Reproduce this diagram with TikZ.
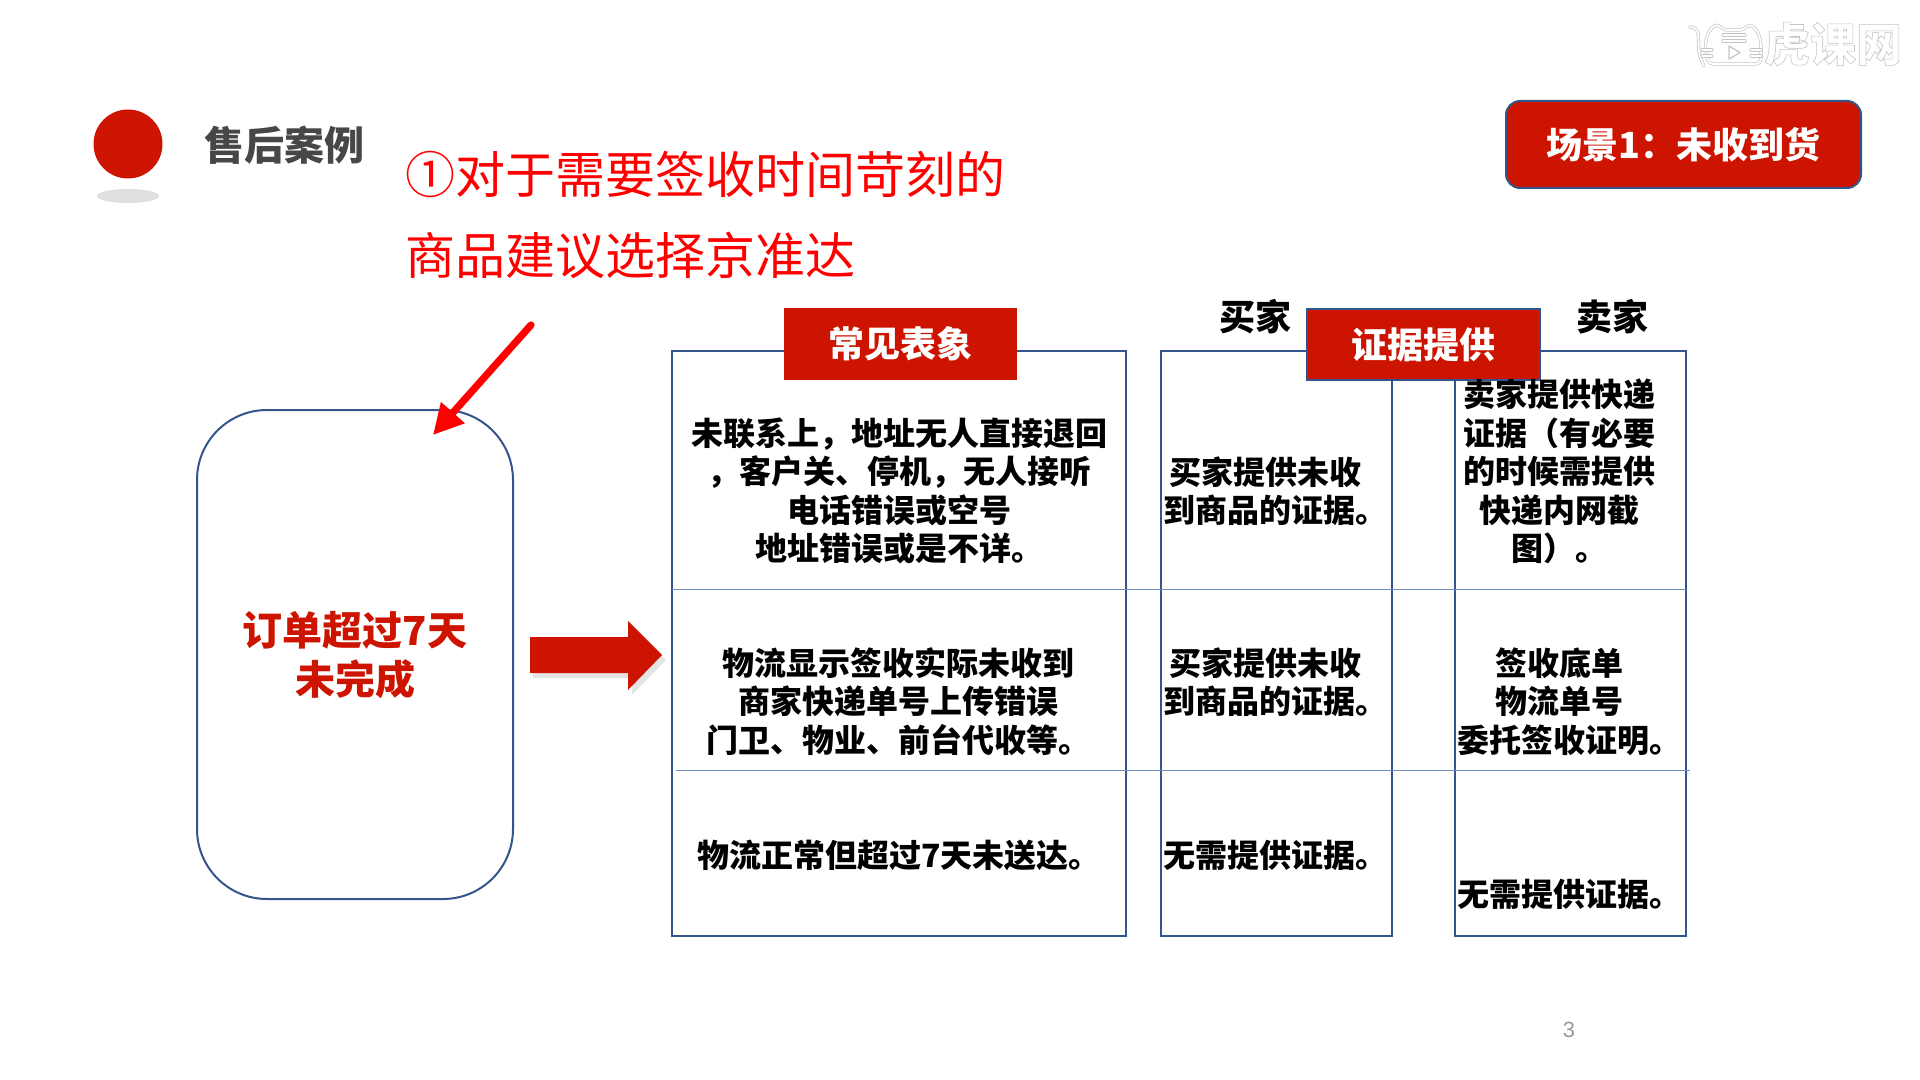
\documentclass[tikz,border=0pt]{standalone}
\usepackage{fontspec}
\setmainfont{Noto Sans CJK SC}
\newfontfamily\latinfont{Liberation Sans}
\usetikzlibrary{arrows.meta}
\definecolor{redfill}{HTML}{CC1400}
\definecolor{navy}{HTML}{34558B}
\definecolor{rowline}{HTML}{6F8DB8}
\definecolor{wmgray}{HTML}{C4C4C4}
\newcommand{\fs}[2]{\fontsize{#1}{#2}\selectfont}
\newcommand{\outl}[1]{\special{pdf:code q 1 Tr 0.3 w}#1\special{pdf:code Q}}
\tikzset{
  cellbox/.style={draw=navy,line width=0.9pt,fill=white,inner sep=0},
  redhead/.style={draw=#1,line width=1pt,fill=redfill,text=white,inner sep=0,font=\fs{18}{22}\bfseries},
  celltext/.style={inner sep=0,align=center,text=black,font=\fs{16}{19.25}\bfseries},
  colhead/.style={inner sep=0,text=black,font=\fs{18}{22}\bfseries},
  rowrule/.style={draw=rowline,line width=0.5pt},
  pointer/.style={draw=red,line width=3.6pt,line cap=round,-{Triangle[length=15pt,width=15pt]}},
  wmline/.style={draw=wmgray,line width=0.35pt,double=white,double distance=0.9pt,line cap=round,line join=round},
}
\begin{document}
\begin{tikzpicture}[x=0.5pt,y=-0.5pt]
\useasboundingbox (0,0) rectangle (1920,1080);
% watermark
\draw[wmline,rounded corners=2.5pt] (1708,32) -- (1717,23) -- (1723,30) -- (1744,30) -- (1750,23) -- (1758,32) -- (1761,42) -- (1761,64) -- (1708,64) -- (1705,45) -- cycle;
\draw[wmline,rounded corners=3pt] (1689,27) -- (1698,28) -- (1699,55) -- (1704,66);
\draw[wmline] (1723,35) -- (1745,35);
\draw[wmline] (1723,41) -- (1745,41);
\draw[wmline] (1702,50) -- (1712,50);
\draw[wmline] (1702,56) -- (1712,56);
\draw[wmline] (1751,50) -- (1761,50);
\draw[wmline] (1751,56) -- (1761,56);
\draw[draw=wmgray,line width=0.6pt,line join=round] (1729,46) -- (1740,52.5) -- (1729,59) -- cycle;
\node[inner sep=0,text=wmgray,font=\fs{23}{26}\bfseries] (wm) at (1833,44) {\outl{虎课网}};
% bullet
\fill[gray!25] (128,196) ellipse (31 and 7);
\fill[redfill] (128,144) ellipse (34.5 and 34.5);
\node[inner sep=0,text=black!72,font=\fs{20}{24}\bfseries] (title) at (284,145) {售后案例};
% red note
\node[inner sep=0,anchor=west,align=left,text=red,font=\fs{25}{40.25}] (note) at (405,215) {①对于需要签收时间苛刻的\\商品建议选择京准达};
% scene
\node[draw=navy,line width=1pt,fill=redfill,text=white,rounded corners=7pt,inner sep=0,minimum width=177.5pt,minimum height=43.5pt,font=\fs{18}{22}\bfseries] (scene) at (1683.5,144.5) {场景1：未收到货};
% order box
\node[draw=navy,line width=1pt,rounded corners=35pt,inner sep=0,minimum width=158pt,minimum height=244.5pt] (order) at (355,654.5) {};
\node[inner sep=0,align=center,text=redfill,font=\fs{20}{24.5}\bfseries] (ordertext) at (355,655) {订单超过7天\\未完成};
\coordinate (ptfrom) at (531,325);
\coordinate (ptto) at (433,435);
\draw[pointer] (ptfrom) -- (ptto);
% block arrow
\fill[black!35,opacity=.3] (533,642) -- (632,642) -- (632,626) -- (666,660) -- (632,695) -- (632,678) -- (533,678) -- cycle;
\fill[redfill] (530,637) -- (628,637) -- (628,621) -- (662,655) -- (628,690) -- (628,673) -- (530,673) -- cycle;
% table
\node[cellbox,minimum width=227pt,minimum height=292.5pt] (col1) at (899,643.5) {};
\node[cellbox,minimum width=115.5pt,minimum height=292.5pt] (col2) at (1276.5,643.5) {};
\node[cellbox,minimum width=115.5pt,minimum height=292.5pt] (col3) at (1570.5,643.5) {};
\coordinate (r1a) at (672,589); \coordinate (r1b) at (1686,589);
\coordinate (r2a) at (676,770); \coordinate (r2b) at (1690,770);
\draw[rowrule] (r1a) -- (r1b);
\draw[rowrule] (r2a) -- (r2b);
% headers
\node[redhead=redfill,minimum width=115.5pt,minimum height=34.5pt] (hd1) at (900.5,344) {常见表象};
\node[redhead=navy,minimum width=116.5pt,minimum height=35.5pt] (hd2) at (1423.5,344.5) {证据提供};
\node[colhead] (buyer) at (1255,317) {买家};
\node[colhead] (seller) at (1612,317) {卖家};
% cells
\node[celltext] (a1) at (899,491) {未联系上，地址无人直接退回\\，客户关、停机，无人接听\\电话错误或空号\\地址错误或是不详。\hspace{12pt}};
\node[celltext] (a2) at (898.5,701.5) {物流显示签收实际未收到\\商家快递单号上传错误\\门卫、物业、前台代收等。};
\node[celltext] (a3) at (899,855) {物流正常但超过7天未送达。};
\node[celltext] (b1) at (1265,491) {买家提供未收\\\hspace{10pt}到商品的证据。};
\node[celltext] (b2) at (1265,682) {买家提供未收\\\hspace{10pt}到商品的证据。};
\node[celltext] (b3) at (1275,855) {无需提供证据。};
\node[celltext] (c1) at (1559,471.5) {卖家提供快递\\证据（有必要\\的时候需提供\\快递内网截\\图）。};
\node[celltext] (c2) at (1559,701.5) {签收底单\\物流单号\\\hspace{10pt}委托签收证明。};
\node[celltext] (c3) at (1569,894) {无需提供证据。};
\node[inner sep=0,text=gray!80,font=\latinfont\fs{11}{13}] (page) at (1569,1030) {3};
\end{tikzpicture}
\end{document}
